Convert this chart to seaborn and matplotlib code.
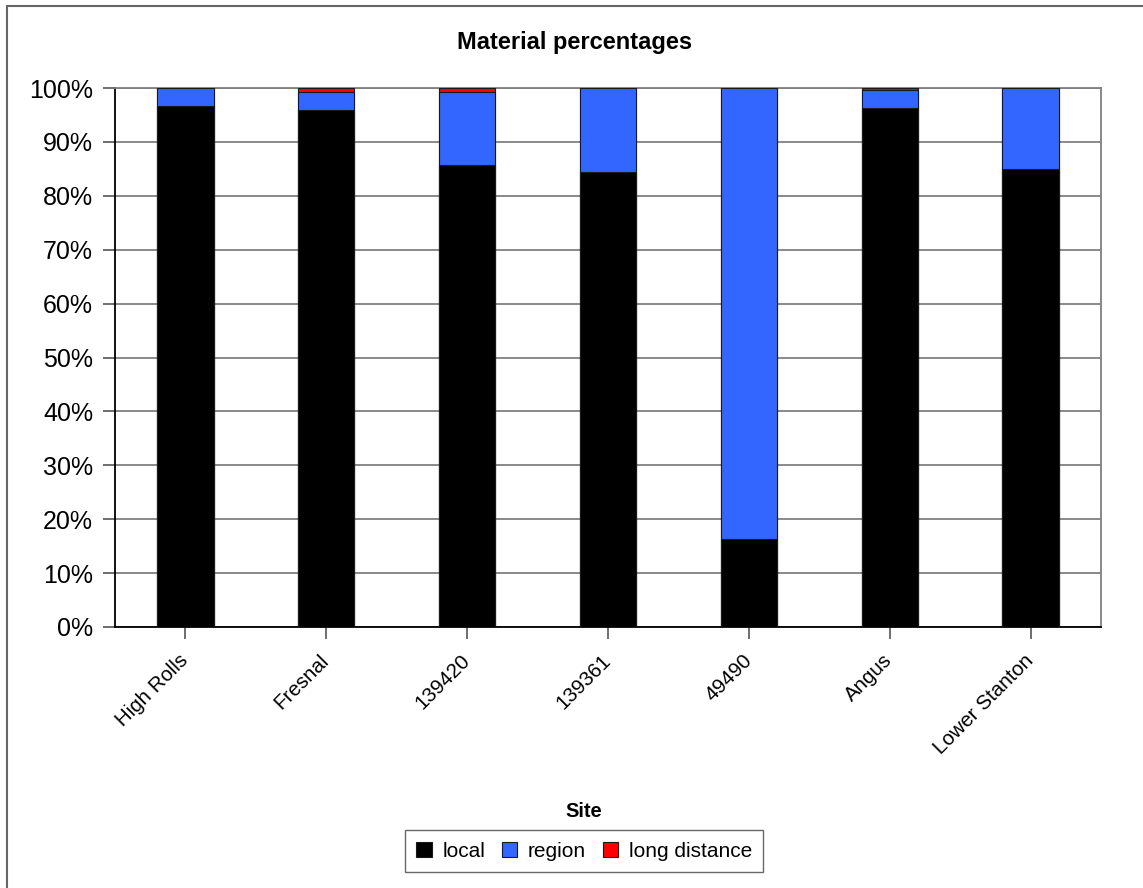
import matplotlib
matplotlib.use("Agg")
import matplotlib.pyplot as plt
import seaborn as sns
import pandas as pd
import numpy as np
from matplotlib.patches import Rectangle, Patch
from matplotlib.ticker import FuncFormatter

sites = ["High Rolls", "Fresnal", "139420", "139361", "49490", "Angus", "Lower Stanton"]
local = [96.7, 96.0, 85.7, 84.5, 16.3, 96.3, 84.9]
region = [3.3, 3.2, 13.5, 15.5, 83.7, 3.4, 15.1]
long_distance = [0.0, 0.8, 0.8, 0.0, 0.0, 0.3, 0.0]

series_names = ["local", "region", "long distance"]
colors = ["#000000", "#3366FF", "#FF0000"]

sns.set_style("white")
plt.rcParams['font.family'] = ['Liberation Sans', 'DejaVu Sans']
plt.rcParams['text.color'] = 'black'
plt.rcParams['xtick.color'] = 'black'
plt.rcParams['ytick.color'] = 'black'
plt.rcParams['axes.labelcolor'] = 'black'

df = pd.DataFrame({"site": sites, "local": local, "region": region, "long": long_distance})
df["c1"] = df["local"]
df["c2"] = df["local"] + df["region"]
df["c3"] = df["c2"] + df["long"]

W, H = 1143, 888
fig = plt.figure(figsize=(W / 100, H / 100), dpi=100)
ax = fig.add_axes([115 / W, 1 - 627 / H, (1101 - 115) / W, (627 - 88) / H])

for col, c in zip(["c3", "c2", "c1"], colors[::-1]):
    sns.barplot(data=df, x="site", y=col, color=c, width=0.4, ax=ax,
                edgecolor="#1a1a1a", linewidth=0.8, saturation=1, zorder=3)

ax.set_ylim(0, 100)
ax.set_yticks(np.arange(0, 101, 10))
ax.yaxis.set_major_formatter(FuncFormatter(lambda v, p: f"{int(v)}%"))
ax.grid(axis="y", color="#808080", linewidth=1.3, zorder=0)
ax.set_axisbelow(True)
ax.set_xlim(-0.5, len(sites) - 0.5)

for s in ["left", "bottom"]:
    ax.spines[s].set_color("black")
    ax.spines[s].set_linewidth(1.3)
for s in ["right", "top"]:
    ax.spines[s].set_color("#808080")
    ax.spines[s].set_linewidth(1.3)

ax.tick_params(axis="y", which="major", length=8.8, width=1.2, color="#555555",
               labelsize=18, pad=7, left=True, labelcolor="black")
ax.tick_params(axis="x", which="major", length=8.8, width=1.2, color="#555555",
               labelsize=14.8, pad=13, bottom=True, labelcolor="black")
ax.set_xticks(range(len(sites)))
ax.set_xticklabels(sites, rotation=45, ha="right", va="center", rotation_mode="anchor")

ax.set_ylabel("")
ax.set_xlabel("Site", fontsize=14.5, fontweight="bold", labelpad=0)
ax.xaxis.set_label_coords((584 - 115) / (1101 - 115), -(802 - 627) / (627 - 88))

fig.text(575 / W, 1 - 42 / H, "Material percentages", fontsize=17,
         fontweight="bold", ha="center", va="center")

handles = [Patch(facecolor=c, edgecolor="#1a1a1a", linewidth=0.8) for c in colors]
leg = fig.legend(handles, series_names, loc="center", bbox_to_anchor=(584 / W, 1 - 851 / H),
                 ncol=3, fontsize=15, frameon=True, fancybox=False,
                 edgecolor="#444444", handlelength=0.75, handleheight=0.75,
                 handletextpad=0.5, columnspacing=0.8, borderpad=0.55)
leg.get_frame().set_linewidth(1.0)

fig.patches.append(Rectangle((7 / W, 0 - 0.01), 1.1, 1 - 6 / H + 0.01, transform=fig.transFigure,
                             fill=False, edgecolor="#666666", linewidth=1.5, clip_on=False))

fig.savefig("out.png", dpi=100)
